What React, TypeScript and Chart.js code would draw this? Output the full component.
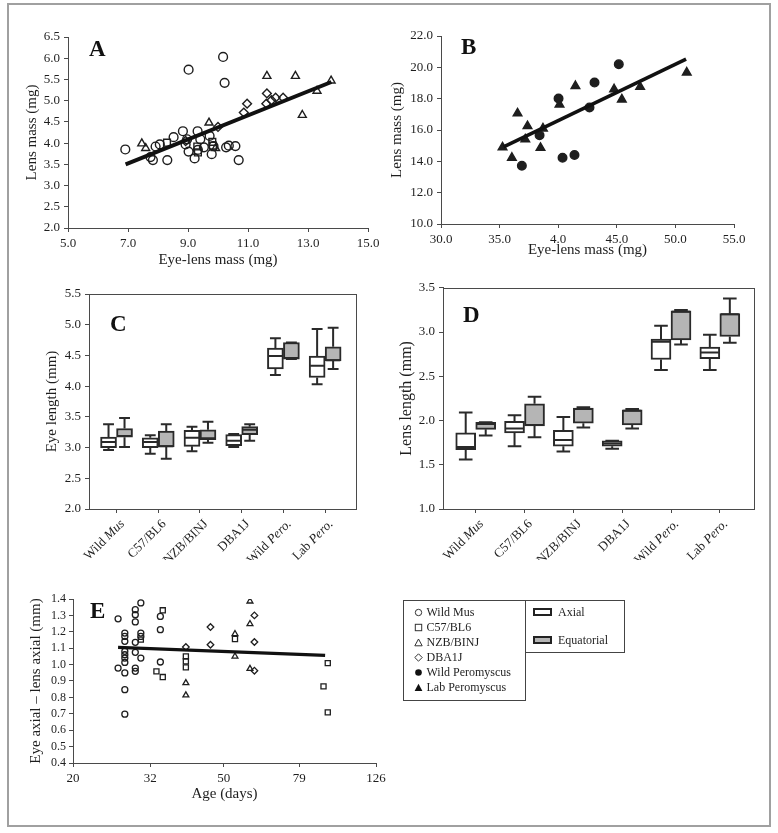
import React, { useEffect, useRef } from 'react';
import { Chart, registerables } from 'chart.js';
Chart.register(...registerables);

const FONT = '"Liberation Serif", "Times New Roman", Times, serif';
const INK = '#1e1e1e';
const AXIS = '#4a4a4a';
const BOX_FILL = '#b5b5b5';

type XY = [number, number];

// ---------- Panel A : lens mass vs eye-lens mass (Mus) ----------
const aWildMus: XY[] = [
  [6.91, 3.85], [9.02, 5.73], [10.17, 6.03], [10.22, 5.42], [7.83, 3.6], [8.31, 3.6], [10.69, 3.6],
  [7.92, 3.92], [8.06, 3.97], [8.52, 4.14], [8.83, 4.28], [8.97, 4.09], [8.92, 3.97], [9.02, 3.8],
  [9.22, 3.64], [9.32, 4.28], [9.41, 4.09], [9.33, 3.84], [9.53, 3.9], [9.72, 4.17], [9.79, 3.74],
  [10.27, 3.9], [10.36, 3.94], [10.58, 3.93], [7.75, 3.67], [9.85, 3.93],
];
const aC57: XY[] = [[8.3, 4.01], [9.31, 3.92], [9.33, 3.78], [9.81, 4.03], [9.83, 3.94]];
const aNZB: XY[] = [
  [7.46, 3.99], [7.59, 3.88], [9.7, 4.48], [11.63, 5.58], [12.58, 5.58], [13.77, 5.47],
  [13.3, 5.23], [12.81, 4.66], [9.92, 3.88],
];
const aDBA: XY[] = [
  [10.97, 4.93], [10.86, 4.72], [11.63, 5.17], [11.61, 4.93], [11.78, 5.01], [11.92, 5.07],
  [12.17, 5.07], [10.0, 4.38], [8.92, 4.05],
];
const aFit: XY[] = [[6.92, 3.5], [13.78, 5.44]];
const aXTickValues = [5, 7, 9, 11, 13, 15];
const aXTickLabels = ['5.0', '7.0', '9.0', '11.0', '13.0', '15.0'];
const aYTickValues = [2, 2.5, 3, 3.5, 4, 4.5, 5, 5.5, 6, 6.5];
const aYTickLabels = ['2.0', '2.5', '3.0', '3.5', '4.0', '4.5', '5.0', '5.5', '6.0', '6.5'];

// ---------- Panel B : Peromyscus ----------
const bWildPero: XY[] = [
  [36.9, 13.72], [38.41, 15.67], [40.03, 18.01], [40.37, 14.23], [41.39, 14.4], [42.67, 17.44],
  [43.1, 19.03], [45.17, 20.2],
];
const bLabPero: XY[] = [
  [35.25, 14.89], [36.05, 14.23], [36.53, 17.06], [37.38, 16.25], [37.19, 15.4], [38.7, 16.1],
  [38.49, 14.86], [40.11, 17.63], [41.47, 18.81], [44.77, 18.6], [45.43, 17.95], [46.99, 18.75],
  [50.97, 19.67],
];
const bFit: XY[] = [[35.34, 14.93], [50.91, 20.52]];
const bXTickValues = [30, 35, 40, 45, 50, 55];
const bXTickLabels = ['30.0', '35.0', '4.0', '45.0', '50.0', '55.0'];
const bYTickValues = [10, 12, 14, 16, 18, 20, 22];
const bYTickLabels = ['10.0', '12.0', '14.0', '16.0', '18.0', '20.0', '22.0'];

// ---------- Panels C / D : box plots ----------
const categories = ['Wild Mus', 'C57/BL6', 'NZB/BINJ', 'DBA1J', 'Wild Pero.', 'Lab Pero.'];
const italicWords = ['Mus', 'Pero.'];

const cAxialMin = [2.96, 2.9, 2.94, 3.01, 4.18, 4.03];
const cAxialQ1 = [3.0, 3.0, 3.02, 3.03, 4.28, 4.14];
const cAxialMed = [3.09, 3.09, 3.16, 3.11, 4.49, 4.33];
const cAxialQ3 = [3.17, 3.16, 3.28, 3.21, 4.62, 4.49];
const cAxialMax = [3.38, 3.2, 3.34, 3.22, 4.78, 4.93];
const cEqMin = [3.01, 2.82, 3.08, 3.11, 4.44, 4.28];
const cEqQ1 = [3.17, 3.01, 3.13, 3.21, 4.44, 4.41];
const cEqMed = [3.19, 3.02, 3.15, 3.29, 4.46, 4.42];
const cEqQ3 = [3.31, 3.27, 3.29, 3.34, 4.71, 4.64];
const cEqMax = [3.48, 3.38, 3.42, 3.38, 4.71, 4.95];
const cYTickValues = [2, 2.5, 3, 3.5, 4, 4.5, 5, 5.5];
const cYTickLabels = ['2.0', '2.5', '3.0', '3.5', '4.0', '4.5', '5.0', '5.5'];

const dAxialMin = [1.56, 1.71, 1.65, 1.68, 2.57, 2.57];
const dAxialQ1 = [1.67, 1.86, 1.71, 1.71, 2.69, 2.7];
const dAxialMed = [1.7, 1.91, 1.78, 1.74, 2.89, 2.77];
const dAxialQ3 = [1.86, 1.99, 1.89, 1.77, 2.92, 2.83];
const dAxialMax = [2.09, 2.06, 2.04, 1.77, 3.07, 2.97];
const dEqMin = [1.83, 1.81, 1.92, 1.91, 2.86, 2.88];
const dEqQ1 = [1.9, 1.94, 1.97, 1.95, 2.91, 2.95];
const dEqMed = [1.96, 1.95, 2.13, 2.11, 3.23, 3.2];
const dEqQ3 = [1.98, 2.19, 2.14, 2.12, 3.24, 3.21];
const dEqMax = [1.98, 2.27, 2.15, 2.13, 3.25, 3.38];
const dYTickValues = [1, 1.5, 2, 2.5, 3, 3.5];
const dYTickLabels = ['1.0', '1.5', '2.0', '2.5', '3.0', '3.5'];
const catTickValues = [0, 1, 2, 3, 4, 5];

// ---------- Panel E : eye axial - lens axial vs age ----------
const eWildMus: XY[] = [
  [26.3, 1.279], [26.3, 0.979],
  [27.4, 1.192], [27.4, 1.172], [27.4, 1.142], [27.4, 1.081], [27.4, 1.06], [27.4, 1.04],
  [27.4, 1.013], [27.4, 0.949], [27.4, 0.847], [27.4, 0.698],
  [29.2, 1.335], [29.2, 1.304], [29.2, 1.26], [29.2, 1.136], [29.2, 1.075], [29.2, 0.979], [29.2, 0.959],
  [30.2, 1.376], [30.2, 1.192], [30.2, 1.172], [30.2, 1.04],
  [34.0, 1.294], [34.0, 1.213], [34.0, 1.016],
];
const eC57: XY[] = [
  [34.5, 1.331], [33.2, 0.959], [34.5, 0.924], [39.7, 1.05], [39.7, 1.02], [39.7, 0.983],
  [53.5, 1.156], [30.2, 1.152], [94.0, 1.009], [91.6, 0.867], [94.0, 0.709],
];
const eNZB: XY[] = [[58.6, 1.386], [58.6, 1.248], [58.6, 0.975], [53.5, 1.187], [53.5, 1.05], [39.7, 0.888], [39.7, 0.813]];
const eDBA: XY[] = [[46.1, 1.229], [46.1, 1.121], [60.2, 1.3], [60.2, 1.138], [60.2, 0.963], [39.7, 1.107]];
const eFit: XY[] = [[26.3, 1.105], [92.5, 1.056]];
const eXTickValues = [20, 32, 50, 79, 126];
const eXTickLabels = ['20', '32', '50', '79', '126'];
const eYTickValues = [0.4, 0.5, 0.6, 0.7, 0.8, 0.9, 1.0, 1.1, 1.2, 1.3, 1.4];
const eYTickLabels = ['0.4', '0.5', '0.6', '0.7', '0.8', '0.9', '1.0', '1.1', '1.2', '1.3', '1.4'];

// ---------- legend ----------
const markerLegend = ['Wild Mus', 'C57/BL6', 'NZB/BINJ', 'DBA1J', 'Wild Peromyscus', 'Lab Peromyscus'];
const markerShapes = ['circle', 'square', 'triangle', 'diamond', 'dot', 'filledTriangle'];
const boxLegend = ['Axial', 'Equatorial'];

// ---------- helpers ----------
const pts = (a: XY[]) => a.map(([x, y]) => ({ x, y }));

function makeAxis(o: any) {
  return {
    type: o.type ?? 'linear',
    bounds: 'data',
    min: o.min,
    max: o.max,
    offset: false,
    afterBuildTicks: (ax: any) => {
      ax.ticks = o.values.map((v: number) => ({ value: v }));
    },
    afterFit: (ax: any) => {
      if (o.vertical) ax.width = o.size;
      else ax.height = o.size;
    },
    ticks: {
      display: o.showLabels !== false,
      autoSkip: false,
      maxRotation: 0,
      minRotation: 0,
      padding: o.tickPad ?? 4,
      color: INK,
      font: { family: FONT, size: o.tickSize ?? 13 },
      callback: (_v: any, i: number) => o.labels[i],
    },
    grid: {
      display: true,
      offset: false,
      drawOnChartArea: false,
      drawTicks: true,
      tickLength: 4,
      color: AXIS,
      lineWidth: 1,
    },
    border: { display: true, color: AXIS, width: 1 },
    title: o.title
      ? {
          display: true,
          text: o.title,
          color: INK,
          font: { family: FONT, size: o.titleSize ?? 15 },
          padding: { top: o.titlePadTop ?? 0, bottom: o.titlePadBottom ?? 0 },
        }
      : { display: false },
  };
}

function makeOptions(padding: any, x: any, y: any) {
  return {
    animation: false,
    responsive: false,
    maintainAspectRatio: false,
    devicePixelRatio: 1,
    events: [],
    layout: { padding },
    plugins: { legend: { display: false }, tooltip: { enabled: false }, title: { display: false } },
    scales: { x, y },
  };
}

function markers(data: XY[], style: string, r: number, filled: boolean, bw = 1.4) {
  const fill = filled ? INK : 'rgba(0,0,0,0)';
  return {
    type: 'scatter',
    data: pts(data),
    showLine: false,
    pointStyle: style,
    pointRadius: r,
    pointHoverRadius: r,
    borderColor: INK,
    backgroundColor: fill,
    pointBorderColor: INK,
    pointBackgroundColor: fill,
    pointBorderWidth: bw,
    borderWidth: bw,
  };
}

function fitLine(data: XY[], w: number) {
  return {
    type: 'line',
    data: pts(data),
    borderColor: '#111',
    borderWidth: w,
    pointRadius: 0,
    fill: false,
    tension: 0,
    showLine: true,
  };
}

function boxes(q1: number[], q3: number[], fill: string, thickness: number) {
  return {
    type: 'bar',
    data: q1.map((v, i) => ({ x: catTickValues[i], y: [v, q3[i]] })),
    backgroundColor: fill,
    borderColor: '#2a2a2a',
    borderWidth: 2,
    borderSkipped: false,
    barThickness: thickness,
    grouped: true,
  };
}

type Stats = { min: number[]; q1: number[]; med: number[]; q3: number[]; max: number[] };

function makeWhiskers(stats: Stats[]) {
  return {
    id: 'whiskers',
    afterDatasetsDraw(chart: any) {
      const ctx = chart.ctx;
      const ys = chart.scales.y;
      stats.forEach((s, di) => {
        const meta = chart.getDatasetMeta(di);
        meta.data.forEach((el: any, i: number) => {
          const { x, width } = el.getProps(['x', 'width'], true);
          const pMin = ys.getPixelForValue(s.min[i]);
          const pMax = ys.getPixelForValue(s.max[i]);
          const pQ1 = ys.getPixelForValue(s.q1[i]);
          const pQ3 = ys.getPixelForValue(s.q3[i]);
          const pMed = ys.getPixelForValue(s.med[i]);
          const cap = width * 0.34;
          ctx.save();
          ctx.strokeStyle = '#2a2a2a';
          ctx.lineWidth = 2;
          ctx.beginPath();
          ctx.moveTo(x, pQ3);
          ctx.lineTo(x, pMax);
          ctx.moveTo(x - cap, pMax);
          ctx.lineTo(x + cap, pMax);
          ctx.moveTo(x, pQ1);
          ctx.lineTo(x, pMin);
          ctx.moveTo(x - cap, pMin);
          ctx.lineTo(x + cap, pMin);
          ctx.moveTo(x - width / 2 + 1, pMed);
          ctx.lineTo(x + width / 2 - 1, pMed);
          ctx.stroke();
          ctx.restore();
        });
      });
    },
  };
}

const frameBox = {
  id: 'frameBox',
  beforeDatasetsDraw(chart: any) {
    const { ctx, chartArea: a } = chart;
    ctx.save();
    ctx.strokeStyle = AXIS;
    ctx.lineWidth = 1;
    ctx.strokeRect(Math.round(a.left) + 0.5, Math.round(a.top) + 0.5, Math.round(a.right - a.left), Math.round(a.bottom - a.top));
    ctx.restore();
  },
};

function splitItalic(s: string) {
  const words = s.split(' ');
  return words.map((w, k) => ({ text: (k > 0 ? ' ' : '') + w, italic: italicWords.includes(w) }));
}

function makeCatLabels(labels: string[], dx: number, dy: number, size: number) {
  return {
    id: 'catLabels',
    afterDraw(chart: any) {
      const { ctx, chartArea } = chart;
      const xs = chart.scales.x;
      labels.forEach((lab, i) => {
        const parts = splitItalic(lab);
        const px = xs.getPixelForValue(catTickValues[i]);
        ctx.save();
        ctx.translate(px + dx, chartArea.bottom + dy);
        ctx.rotate(-Math.PI / 4);
        ctx.textBaseline = 'middle';
        ctx.textAlign = 'left';
        ctx.fillStyle = INK;
        const fonts = parts.map((p) => `${p.italic ? 'italic ' : ''}${size}px ${FONT}`);
        const widths = parts.map((p, k) => {
          ctx.font = fonts[k];
          return ctx.measureText(p.text).width;
        });
        let cx = -widths.reduce((a, b) => a + b, 0);
        parts.forEach((p, k) => {
          ctx.font = fonts[k];
          ctx.fillText(p.text, cx, 0);
          cx += widths[k];
        });
        ctx.restore();
      });
    },
  };
}

// ---------- chart configs ----------
function configA() {
  return {
    type: 'scatter',
    data: {
      datasets: [
        fitLine(aFit, 4),
        markers(aWildMus, 'circle', 4.4, false),
        markers(aC57, 'rect', 4.8, false),
        markers(aNZB, 'triangle', 4.6, false),
        markers(aDBA, 'rectRot', 4.4, false),
      ],
    },
    options: makeOptions(
      { left: 0, top: 17, right: 17, bottom: 0 },
      makeAxis({ min: 5, max: 15, values: aXTickValues, labels: aXTickLabels, size: 47, title: 'Eye-lens mass (mg)', titlePadBottom: 6 }),
      makeAxis({ min: 2, max: 6.5, values: aYTickValues, labels: aYTickLabels, size: 58, vertical: true, title: 'Lens mass (mg)', titlePadTop: 13 })
    ),
  };
}

function configB() {
  return {
    type: 'scatter',
    data: {
      datasets: [
        fitLine(bFit, 3.6),
        markers(bWildPero, 'circle', 4.3, true),
        markers(bLabPero, 'triangle', 5, true),
      ],
    },
    options: makeOptions(
      { left: 0, top: 16, right: 26, bottom: 0 },
      makeAxis({ min: 30, max: 55, values: bXTickValues, labels: bXTickLabels, size: 51, title: 'Eye-lens mass (mg)', titlePadBottom: 16 }),
      makeAxis({ min: 10, max: 22, values: bYTickValues, labels: bYTickLabels, size: 56, vertical: true, title: 'Lens mass (mg)', titlePadTop: 3.5 })
    ),
  };
}

function configBox(
  ax: Stats,
  eq: Stats,
  thickness: number,
  xMin: number,
  xMax: number,
  yMin: number,
  yMax: number,
  yVals: number[],
  yLabs: string[],
  yTitle: string,
  yTitleSize: number,
  yTitlePad: number,
  yWidth: number,
  padding: any
) {
  return {
    type: 'bar',
    data: {
      datasets: [boxes(ax.q1, ax.q3, '#ffffff', thickness), boxes(eq.q1, eq.q3, BOX_FILL, thickness)],
    },
    options: makeOptions(
      padding,
      makeAxis({ min: xMin, max: xMax, values: catTickValues, labels: categories, size: 51, showLabels: false }),
      makeAxis({ min: yMin, max: yMax, values: yVals, labels: yLabs, size: yWidth, vertical: true, title: yTitle, titleSize: yTitleSize, titlePadTop: yTitlePad })
    ),
    plugins: [frameBox, makeWhiskers([ax, eq]), makeCatLabels(categories, 6, 13, 13)],
  };
}

function configC() {
  return configBox(
    { min: cAxialMin, q1: cAxialQ1, med: cAxialMed, q3: cAxialQ3, max: cAxialMax },
    { min: cEqMin, q1: cEqQ1, med: cEqMed, q3: cEqQ3, max: cEqMax },
    16, -0.66, 5.74, 2, 5.5, cYTickValues, cYTickLabels, 'Eye length (mm)', 15, 33, 79,
    { left: 0, top: 12, right: 24, bottom: 0 }
  );
}

function configD() {
  return configBox(
    { min: dAxialMin, q1: dAxialQ1, med: dAxialMed, q3: dAxialQ3, max: dAxialMax },
    { min: dEqMin, q1: dEqQ1, med: dEqMed, q3: dEqQ3, max: dEqMax },
    20, -0.67, 5.7, 1, 3.5, dYTickValues, dYTickLabels, 'Lens length (mm)', 16, 12, 58,
    { left: 0, top: 9, right: 13, bottom: 0 }
  );
}

function configE() {
  return {
    type: 'scatter',
    data: {
      datasets: [
        fitLine(eFit, 3.2),
        markers(eWildMus, 'circle', 3, false, 1.3),
        markers(eC57, 'rect', 3.6, false, 1.3),
        markers(eNZB, 'triangle', 3.4, false, 1.3),
        markers(eDBA, 'rectRot', 3.3, false, 1.3),
      ],
    },
    options: makeOptions(
      { left: 0, top: 14, right: 19, bottom: 0 },
      makeAxis({ type: 'logarithmic', min: 20, max: 126, values: eXTickValues, labels: eXTickLabels, size: 52, title: 'Age (days)', titlePadBottom: 12 }),
      makeAxis({ min: 0.4, max: 1.4, values: eYTickValues, labels: eYTickLabels, size: 63, vertical: true, tickSize: 12, tickPad: 3, title: 'Eye axial \u2013 lens axial (mm)', titlePadTop: 17 })
    ),
  };
}

function ChartCanvas({ left, top, width, height, build }: { left: number; top: number; width: number; height: number; build: () => any }) {
  const ref = useRef<HTMLCanvasElement>(null);
  useEffect(() => {
    const chart = new Chart(ref.current as HTMLCanvasElement, build());
    return () => chart.destroy();
  }, []);
  return (
    <canvas
      ref={ref}
      width={width}
      height={height}
      style={{ position: 'absolute', left, top, width, height, display: 'block' }}
    />
  );
}

function Letter({ ch, left, baseline }: { ch: string; left: number; baseline: number }) {
  const size = 23;
  return (
    <div
      style={{
        position: 'absolute',
        left,
        top: baseline - size * 0.8375,
        fontFamily: FONT,
        fontWeight: 'bold',
        fontSize: size,
        lineHeight: `${size}px`,
        color: '#111',
      }}
    >
      {ch}
    </div>
  );
}

function Symbol({ shape }: { shape: string }) {
  const s = '#333';
  let el: any = null;
  if (shape === 'circle') el = <circle cx={4.5} cy={4.5} r={3.2} fill="none" stroke={s} strokeWidth={1} />;
  if (shape === 'square') el = <rect x={1.3} y={1.3} width={6.4} height={6.4} fill="none" stroke={s} strokeWidth={1} />;
  if (shape === 'triangle') el = <polygon points="4.5,1 8.2,7.8 0.8,7.8" fill="none" stroke={s} strokeWidth={1} />;
  if (shape === 'diamond') el = <polygon points="4.5,0.8 8.2,4.5 4.5,8.2 0.8,4.5" fill="none" stroke={s} strokeWidth={1} />;
  if (shape === 'dot') el = <circle cx={4.5} cy={4.5} r={3.3} fill="#111" />;
  if (shape === 'filledTriangle') el = <polygon points="4.5,0.8 8.4,8 0.6,8" fill="#111" />;
  return (
    <svg width={9} height={9} style={{ position: 'absolute', left: 0, top: 0 }}>
      {el}
    </svg>
  );
}

function Legend() {
  const textStyle: any = {
    position: 'absolute',
    fontFamily: FONT,
    fontSize: 12,
    lineHeight: '12px',
    color: INK,
    whiteSpace: 'nowrap',
  };
  return (
    <>
      <div style={{ position: 'absolute', left: 403, top: 600, width: 123, height: 101, border: '1px solid #444', boxSizing: 'border-box' }} />
      <div style={{ position: 'absolute', left: 525, top: 600, width: 100, height: 53, border: '1px solid #444', boxSizing: 'border-box' }} />
      {markerLegend.map((t, i) => (
        <React.Fragment key={t}>
          <div style={{ position: 'absolute', left: 413.5, top: 608 + 15 * i, width: 9, height: 9 }}>
            <Symbol shape={markerShapes[i]} />
          </div>
          <div style={{ ...textStyle, left: 426.5, top: 606 + 15 * i }}>{t}</div>
        </React.Fragment>
      ))}
      {boxLegend.map((t, i) => (
        <React.Fragment key={t}>
          <div
            style={{
              position: 'absolute',
              left: 533,
              top: 608 + 28 * i,
              width: 19,
              height: 8,
              border: '2px solid #222',
              boxSizing: 'border-box',
              background: i === 0 ? '#fff' : BOX_FILL,
            }}
          />
          <div style={{ ...textStyle, left: 558, top: 606 + 28.3 * i }}>{t}</div>
        </React.Fragment>
      ))}
    </>
  );
}

export default function App() {
  return (
    <div style={{ position: 'absolute', left: 0, top: 0, width: 778, height: 833, overflow: 'hidden', background: '#fff' }}>
      <div style={{ position: 'absolute', left: 7, top: 3, width: 764, height: 824, border: '2px solid #a0a0a0', boxSizing: 'border-box' }} />
      <ChartCanvas left={10} top={20} width={375} height={255} build={configA} />
      <ChartCanvas left={385} top={20} width={375} height={255} build={configB} />
      <ChartCanvas left={10} top={282} width={370} height={278} build={configC} />
      <ChartCanvas left={385} top={276} width={382} height={284} build={configD} />
      <ChartCanvas left={10} top={585} width={385} height={230} build={configE} />
      <Letter ch="A" left={89} baseline={56} />
      <Letter ch="B" left={461} baseline={54} />
      <Letter ch="C" left={110} baseline={331.7} />
      <Letter ch="D" left={463} baseline={322.7} />
      <Letter ch="E" left={90} baseline={618.3} />
      <Legend />
    </div>
  );
}
